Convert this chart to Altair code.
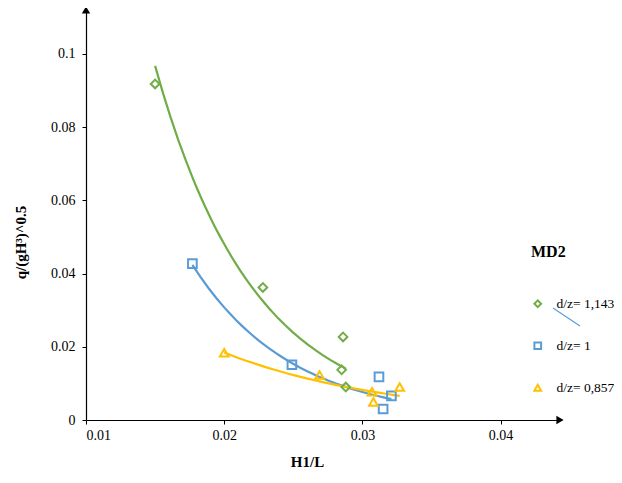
import altair as alt
import pandas as pd

series_names = ["d/z= 1,143", "d/z= 1", "d/z= 0,857"]
x_green = [0.0150, 0.0228, 0.0286, 0.0285, 0.0288]
y_green = [0.0918, 0.0362, 0.0227, 0.0137, 0.0090]
x_blue = [0.0177, 0.0249, 0.0312, 0.0315, 0.0321]
y_blue = [0.0427, 0.0151, 0.0118, 0.0030, 0.0066]
x_yellow = [0.0200, 0.0269, 0.0307, 0.0308, 0.0327]
y_yellow = [0.0184, 0.0123, 0.0077, 0.0049, 0.0090]
colors = ["#70AD47", "#5B9BD5", "#FFC000"]
shapes = ["diamond", "square", "triangle-up"]
x_ticks = [0.01, 0.02, 0.03, 0.04]
y_ticks = [0, 0.02, 0.04, 0.06, 0.08, 0.1]

rows = []
for name, xs, ys in zip(series_names, [x_green, x_blue, x_yellow], [y_green, y_blue, y_yellow]):
    for a, b in zip(xs, ys):
        rows.append({"series": name, "x": a, "y": b})
df = pd.DataFrame(rows)

FONT = "Times New Roman, Liberation Serif, serif"
W, H = 474, 410

xenc = alt.X("x:Q",
             scale=alt.Scale(domain=[0.01, 0.0443], nice=False, zero=False),
             axis=alt.Axis(values=x_ticks, format="~g", title="H1/L", grid=False,
                           titleX=221, titlePadding=12, tickSize=4, labelPadding=4))
yenc = alt.Y("y:Q",
             scale=alt.Scale(domain=[0, 0.112], nice=False),
             axis=alt.Axis(values=y_ticks, format="~g", title="q/(gH³)^0.5", grid=False,
                           titleY=232, titlePadding=22, tickSize=4, labelPadding=7))

leg = alt.Legend(orient="none", legendX=445, legendY=234, title="MD2",
                 titleFont=FONT, titleFontSize=16, titleFontWeight="bold", titleColor="black",
                 titlePadding=37, rowPadding=26, labelFont=FONT, labelFontSize=13.5,
                 labelColor="black", labelLimit=300, symbolSize=45, symbolStrokeWidth=2,
                 labelOffset=12)

cscale = alt.Scale(domain=series_names, range=colors)
sscale = alt.Scale(domain=series_names, range=shapes)

base = alt.Chart(df)

# exponential trendline y = a*exp(b*x), fitted as a power law on u = exp(x)
lines = base.transform_calculate(u="exp(datum.x)").transform_regression(
    "u", "y", groupby=["series"], method="pow"
).transform_calculate(x="log(datum.u)").mark_line(strokeWidth=2.2).encode(
    x=xenc, y=yenc, color=alt.Color("series:N", scale=cscale, legend=leg))

points = base.mark_point(filled=False, strokeWidth=2, size=75, opacity=1).encode(
    x=xenc, y=yenc,
    color=alt.Color("series:N", scale=cscale, legend=leg),
    shape=alt.Shape("series:N", scale=sscale, legend=leg))

arrow_df = pd.DataFrame({"k": [0]})
arrow_x = alt.Chart(arrow_df).mark_point(shape="triangle-right", filled=True, color="black",
                                         size=70, opacity=1).encode(x=alt.value(W), y=alt.value(H))
arrow_y = alt.Chart(arrow_df).mark_point(shape="triangle-up", filled=True, color="black",
                                         size=70, opacity=1).encode(x=alt.value(0), y=alt.value(0))
stray = alt.Chart(arrow_df).mark_rule(color="#5B9BD5", strokeWidth=1.2).encode(
    x=alt.value(467), y=alt.value(298), x2=alt.value(494), y2=alt.value(316))

chart = alt.layer(lines, points, arrow_x, arrow_y, stray).properties(
    width=W, height=H,
    autosize=alt.AutoSizeParams(type="none"),
    padding={"left": 78, "top": 2, "right": 54, "bottom": 55},
).configure_view(stroke=None).configure_axis(
    domainColor="black", domainWidth=1.2, tickColor="black",
    labelFont=FONT, labelFontSize=14, labelColor="black",
    titleFont=FONT, titleFontSize=15, titleFontWeight="bold", titleColor="black",
)

chart.save("out.html", embed_options={"renderer": "svg", "actions": False})
